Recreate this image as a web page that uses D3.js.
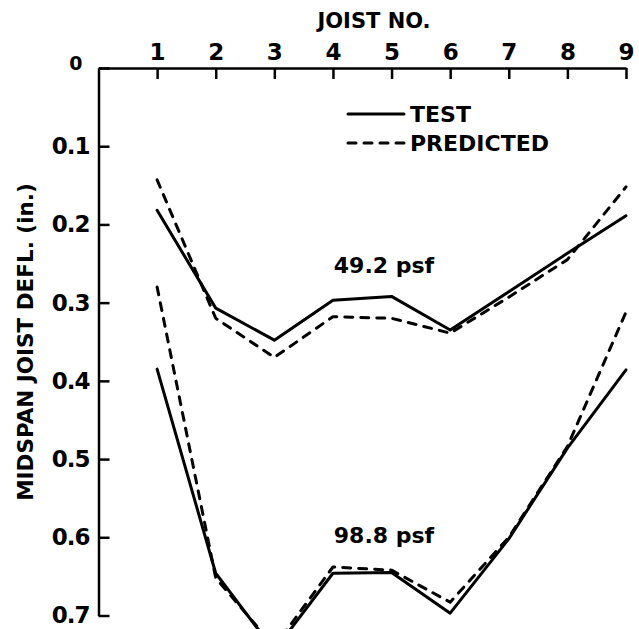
<!DOCTYPE html>
<html>
<head>
<meta charset="utf-8">
<script src="https://cdn.jsdelivr.net/npm/d3@7"></script>
<style>
  html, body { margin: 0; padding: 0; background: #fff; }
  svg { display: block; }
  text { font-family: "DejaVu Sans", sans-serif; font-weight: bold; fill: #000; }
</style>
</head>
<body>
<svg id="chart" width="639" height="629"></svg>
<script>
// ---- data ----
const joists = [1, 2, 3, 4, 5, 6, 7, 8, 9];
const xTickLabels = ["1", "2", "3", "4", "5", "6", "7", "8", "9"];
const yTickValues = [0, 0.1, 0.2, 0.3, 0.4, 0.5, 0.6, 0.7];
const yTickLabels = ["0", "0.1", "0.2", "0.3", "0.4", "0.5", "0.6", "0.7"];

const test49 = [0.182, 0.307, 0.348, 0.297, 0.292, 0.335, 0.286, 0.237, 0.189];
const pred49 = [0.143, 0.320, 0.370, 0.318, 0.320, 0.339, 0.293, 0.245, 0.152];
const test98 = [0.385, 0.646, 0.745, 0.646, 0.645, 0.697, 0.602, 0.486, 0.386];
const pred98 = [0.280, 0.652, 0.740, 0.638, 0.642, 0.683, 0.600, 0.484, 0.312];

const seriesNames = ["TEST", "PREDICTED"];
const loadLabels = ["49.2 psf", "98.8 psf"];

// ---- layout ----
const svg = d3.select("#chart");
const x = d3.scaleLinear().domain([0, 9]).range([98.5, 626]);
const y = d3.scaleLinear().domain([0, 0.7]).range([68, 615.5]);

// x axis (top)
const xAxis = d3.axisTop(x)
  .tickValues(joists)
  .tickFormat((d, i) => xTickLabels[i])
  .tickSizeInner(-11)
  .tickSizeOuter(0)
  .tickPadding(8);
const gx = svg.append("g").attr("transform", `translate(0,${y(0)})`).call(xAxis);
gx.select(".domain").attr("stroke", "#000").attr("stroke-width", 2.5);
gx.selectAll(".tick line").attr("stroke", "#000").attr("stroke-width", 2.5);
gx.selectAll(".tick text")
  .style("font-family", "DejaVu Sans, sans-serif")
  .style("font-weight", "bold")
  .style("font-size", "23px")
  .attr("fill", "#000");

// y axis (left)
const yAxis = d3.axisLeft(y)
  .tickValues(yTickValues)
  .tickFormat((d, i) => yTickLabels[i])
  .tickSizeInner(-11)
  .tickSizeOuter(0)
  .tickPadding(9);
const gy = svg.append("g").attr("transform", `translate(${x(0)},0)`).call(yAxis);
gy.select(".domain").attr("stroke", "#000").attr("stroke-width", 2.5);
gy.selectAll(".tick line").attr("stroke", "#000").attr("stroke-width", 2.5);
gy.selectAll(".tick text")
  .style("font-family", "DejaVu Sans, sans-serif")
  .style("font-weight", "bold")
  .style("font-size", "23px")
  .style("letter-spacing", "-1px")
  .attr("fill", "#000");
gy.selectAll(".tick").filter(d => d === 0).select("text")
  .attr("x", -17).attr("dy", "0.1em").style("font-size", "19px");

// axis titles
svg.append("text")
  .attr("x", 374).attr("y", 28)
  .attr("text-anchor", "middle")
  .style("font-size", "21px")
  .text("JOIST NO.");

svg.append("text")
  .attr("transform", "translate(33,342) rotate(-90)")
  .attr("text-anchor", "middle")
  .style("font-size", "21.5px")
  .text("MIDSPAN JOIST DEFL. (in.)");

// lines
const line = d3.line().x((d, i) => x(joists[i])).y(d => y(d));
const dash = "8,8";
function drawLine(data, dashed) {
  svg.append("path")
    .datum(data)
    .attr("d", line)
    .attr("fill", "none")
    .attr("stroke", "#000")
    .attr("stroke-width", 3)
    .attr("stroke-linejoin", "round")
    .attr("stroke-linecap", "round")
    .attr("stroke-dasharray", dashed ? dash : null);
}
drawLine(test49, false);
drawLine(pred49, true);
drawLine(test98, false);
drawLine(pred98, true);

// load labels
svg.append("text").attr("x", 384).attr("y", 273).attr("text-anchor", "middle")
  .style("font-size", "22px").text(loadLabels[0]);
svg.append("text").attr("x", 384).attr("y", 543).attr("text-anchor", "middle")
  .style("font-size", "22px").text(loadLabels[1]);

// legend
const legend = svg.append("g");
[[114, false], [143, true]].forEach(([ly, dashed], i) => {
  legend.append("line")
    .attr("x1", 348).attr("x2", 404).attr("y1", ly).attr("y2", ly)
    .attr("stroke", "#000").attr("stroke-width", 3)
    .attr("stroke-linecap", "round")
    .attr("stroke-dasharray", dashed ? "8,8" : null);
  legend.append("text")
    .attr("x", 410).attr("y", ly + 8)
    .style("font-size", "22px")
    .text(seriesNames[i]);
});
</script>
</body>
</html>
